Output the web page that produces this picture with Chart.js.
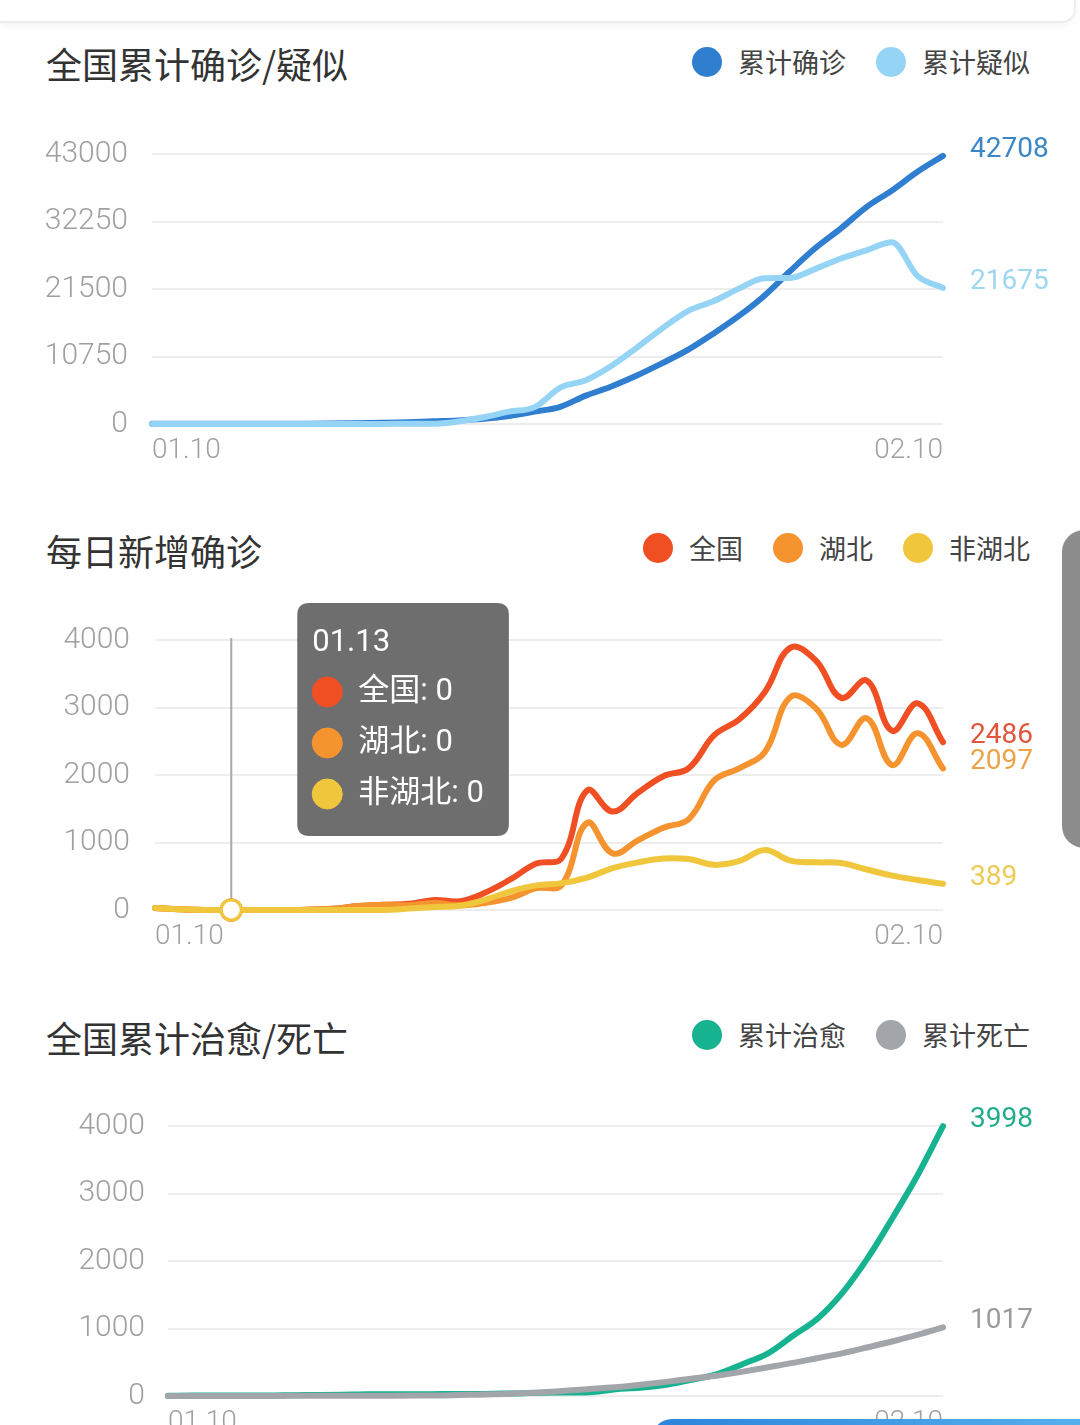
<!DOCTYPE html>
<html lang="zh">
<head>
<meta charset="utf-8">
<script src="https://cdn.jsdelivr.net/npm/chart.js@4.4.1/dist/chart.umd.min.js"></script>
<style>
  html, body { margin: 0; padding: 0; background: #fff; }
  body { width: 1080px; height: 1425px; position: relative; overflow: hidden;
         font-family: "Noto Sans CJK SC", sans-serif; }
  .topcard { position: absolute; left: 0; top: -10px; width: 1074px; height: 31px;
             border-bottom: 2px solid #ececec; border-right: 2px solid #f0f0f0;
             border-bottom-right-radius: 14px; box-shadow: 0 3px 6px rgba(0,0,0,0.04); }
  .title { position: absolute; left: 46px; font-size: 36px; line-height: 40px; color: #333; }
  .legend { position: absolute; right: 50px; display: flex; align-items: center;
            font-size: 27px; line-height: 30px; color: #444; }
  .legend .item { display: flex; align-items: center; margin-left: 30px; }
  .legend .dot { width: 30px; height: 30px; border-radius: 50%; margin-right: 16px; }
  canvas { position: absolute; left: 0; }
  .sidetab { position: absolute; left: 1062px; top: 530px; width: 30px; height: 318px;
             background: #8d8d8d; border-radius: 22px 0 0 22px; }
  .bottombtn { position: absolute; left: 652px; top: 1419px; width: 460px; height: 40px;
               border-radius: 20px; background: linear-gradient(90deg, #2c84dc, #5ab2ee); }
</style>
</head>
<body>
<div class="topcard"></div>

<div class="title" style="top:43px">全国累计确诊/疑似</div>
<div class="legend" id="legend1" style="top:47px"></div>
<canvas id="chartTotal" width="1080" height="374" style="top:110px"></canvas>

<div class="title" style="top:530px">每日新增确诊</div>
<div class="legend" id="legend2" style="top:533px"></div>
<canvas id="chartDaily" width="1080" height="380" style="top:590px"></canvas>

<div class="title" style="top:1017px">全国累计治愈/死亡</div>
<div class="legend" id="legend3" style="top:1020px"></div>
<canvas id="chartCured" width="1080" height="376" style="top:1080px"></canvas>

<div class="sidetab"></div>
<div class="bottombtn"></div>

<script>
// dates 01.10 - 02.10
const dates = ['01.10','01.11','01.12','01.13','01.14','01.15','01.16','01.17','01.18','01.19','01.20',
  '01.21','01.22','01.23','01.24','01.25','01.26','01.27','01.28','01.29','01.30','01.31',
  '02.01','02.02','02.03','02.04','02.05','02.06','02.07','02.08','02.09','02.10'];

// 全国累计确诊 / 疑似
const confirmedTotal = [41, 41, 41, 41, 41, 41, 45, 62, 121, 198, 291, 440, 571, 830, 1287, 1975,
  2744, 4515, 5974, 7711, 9692, 11791, 14380, 17205, 20438, 24324, 28018, 31161, 34546, 37198, 40171, 42708];
const suspectedTotal = [0, 0, 0, 0, 0, 0, 0, 0, 0, 0, 54, 37, 393, 1072, 1965, 2684,
  5794, 6973, 9239, 12167, 15238, 17988, 19544, 21558, 23214, 23260, 24702, 26359, 27657, 28942, 23589, 21675];
const yTicksTotal = [0, 10750, 21500, 32250, 43000];

// 每日新增确诊
const newNational = [30, 10, 0, 0, 0, 0, 4, 17, 59, 77, 93, 149, 131, 259, 457, 688,
  769, 1771, 1459, 1737, 1982, 2102, 2590, 2829, 3235, 3887, 3694, 3143, 3399, 2656, 3062, 2486];
const newHubei = [30, 10, 0, 0, 0, 0, 4, 17, 59, 77, 72, 105, 69, 105, 180, 323,
  371, 1291, 840, 1032, 1220, 1347, 1921, 2103, 2345, 3156, 2987, 2447, 2841, 2147, 2618, 2097];
const newOutside = [30, 10, 0, 0, 0, 0, 0, 0, 0, 0, 21, 44, 62, 154, 277, 365,
  398, 480, 619, 705, 762, 755, 669, 726, 890, 731, 707, 696, 600, 509, 444, 389];
const yTicksDaily = [0, 1000, 2000, 3000, 4000];
const tooltipDate = '01.13';

// 全国累计治愈 / 死亡
const curedTotal = [2, 6, 7, 7, 7, 12, 15, 19, 25, 25, 25, 28, 28, 34, 38, 49,
  51, 60, 103, 124, 171, 243, 328, 475, 632, 892, 1153, 1540, 2050, 2649, 3281, 3998];
const deathTotal = [1, 1, 1, 1, 1, 2, 2, 2, 3, 4, 6, 9, 17, 25, 41, 56,
  80, 106, 132, 170, 213, 259, 304, 361, 425, 490, 563, 636, 722, 811, 908, 1017];
const yTicksCured = [0, 1000, 2000, 3000, 4000];

const yTickFont = { family: 'Roboto', size: 30, weight: 300 };
const xTickFont = { family: 'Roboto', size: 28, weight: 300 };

// last value written beside the end of each line
const endLabels = {
    id: 'endLabels',
    afterDatasetsDraw(chart) {
        const ctx = chart.ctx;
        chart.data.datasets.forEach((ds, i) => {
            const meta = chart.getDatasetMeta(i);
            const pt = meta.data[meta.data.length - 1];
            ctx.save();
            ctx.font = '28px Roboto';
            ctx.fillStyle = ds.endColor;
            ctx.textAlign = 'left';
            ctx.textBaseline = 'middle';
            ctx.fillText(String(ds.data[ds.data.length - 1]), pt.x + 27, pt.y - 6);
            ctx.restore();
        });
    }
};

// vertical guide line under the tooltip point
const hoverLine = {
    id: 'hoverLine',
    beforeDatasetsDraw(chart) {
        const act = chart.tooltip ? chart.tooltip.getActiveElements() : [];
        if (!act.length) return;
        const el = act[0].element;
        const ctx = chart.ctx;
        ctx.save();
        ctx.strokeStyle = '#a9a9a9';
        ctx.lineWidth = 2;
        ctx.beginPath();
        ctx.moveTo(el.x, chart.chartArea.top - 2);
        ctx.lineTo(el.x, el.y);
        ctx.stroke();
        ctx.restore();
    }
};

Chart.Tooltip.positioners.besidePoint = function (items) {
    if (!items.length) return false;
    return { x: items[0].element.x + 78, y: this.chart.chartArea.top - 37 };
};

function lineSet(label, data, color, endColor, order, smooth) {
    return {
        label: label, data: data, borderColor: color, backgroundColor: color, endColor: endColor,
        order: order, borderWidth: 6, pointRadius: 0, borderCapStyle: 'round', borderJoinStyle: 'round',
        tension: 0.4, cubicInterpolationMode: smooth ? 'monotone' : 'default', clip: 14,
        pointHoverRadius: 10, pointHoverBorderWidth: 3, pointHoverBackgroundColor: '#fff', pointHoverBorderColor: color
    };
}

function baseOptions(yTicks, axisWidth, padTop, tickPad) {
    return {
        responsive: false,
        animation: false,
        events: [],
        layout: { padding: { top: padTop, right: 137, bottom: 0, left: 0 } },
        plugins: { legend: { display: false }, tooltip: { enabled: false } },
        scales: {
            x: {
                grid: { display: false, drawTicks: false },
                border: { display: false },
                afterFit: s => { s.height = 60; },
                ticks: {
                    autoSkip: false, maxRotation: 0, align: 'inner', padding: 10,
                    color: '#a0a0a0', font: xTickFont,
                    callback: (v, i, arr) => (i === 0 || i === arr.length - 1) ? dates[v] : ''
                }
            },
            y: {
                min: yTicks[0], max: yTicks[yTicks.length - 1],
                afterBuildTicks: s => { s.ticks = yTicks.map(v => ({ value: v })); },
                afterFit: s => { s.width = axisWidth; },
                grid: { color: '#ededed', lineWidth: 2, drawTicks: false },
                border: { display: false },
                ticks: { padding: tickPad, color: '#a0a0a0', font: yTickFont, callback: v => String(v) }
            }
        }
    };
}

function buildLegend(id, datasets) {
    const box = document.getElementById(id);
    datasets.forEach(ds => {
        const item = document.createElement('div');
        item.className = 'item';
        item.innerHTML = '<span class="dot" style="background:' + ds.borderColor + '"></span>' + ds.label;
        box.appendChild(item);
    });
}

// chart 1
const totalSets = [
    lineSet('累计确诊', confirmedTotal, '#2f7ed0', '#3b86c6', 1, true),
    lineSet('累计疑似', suspectedTotal, '#96d4f5', '#9fd6f2', 0, true)
];
buildLegend('legend1', totalSets);
new Chart(document.getElementById('chartTotal'), {
    type: 'line',
    data: { labels: dates, datasets: totalSets },
    options: baseOptions(yTicksTotal, 152, 44, 24),
    plugins: [endLabels]
});

// chart 2
const dailySets = [
    lineSet('全国', newNational, '#f04e23', '#e2553d', 2, false),
    lineSet('湖北', newHubei, '#f5932f', '#eea24a', 1, false),
    lineSet('非湖北', newOutside, '#f0c63d', '#ecca55', 0, false)
];
buildLegend('legend2', dailySets);
const dailyOpts = baseOptions(yTicksDaily, 155, 50, 25);
dailyOpts.plugins.tooltip = {
    enabled: true, animation: false, position: 'besidePoint',
    xAlign: 'left', yAlign: 'top', caretSize: 0, caretPadding: 0, cornerRadius: 12,
    backgroundColor: 'rgba(104,104,104,0.96)',
    titleColor: '#fff', bodyColor: '#fff',
    titleFont: { family: 'Roboto', size: 31, weight: 'normal', lineHeight: '36px' },
    bodyFont: { family: 'Roboto, "Noto Sans CJK SC"', size: 31, lineHeight: '36px' },
    titleMarginBottom: 13, bodySpacing: 15,
    padding: { top: 22, bottom: 24, left: 15, right: 25 },
    displayColors: true, usePointStyle: true, boxWidth: 30, boxHeight: 30, boxPadding: 14,
    multiKeyBackground: 'rgba(0,0,0,0)',
    itemSort: (a, b) => a.datasetIndex - b.datasetIndex,
    callbacks: {
        labelColor: c => ({ borderColor: c.dataset.borderColor, backgroundColor: c.dataset.borderColor })
    }
};
const dailyChart = new Chart(document.getElementById('chartDaily'), {
    type: 'line',
    data: { labels: dates, datasets: dailySets },
    options: dailyOpts,
    plugins: [hoverLine, endLabels]
});
const tipIndex = dates.indexOf(tooltipDate);
const active = dailySets.map((ds, i) => ({ datasetIndex: i, index: tipIndex }));
dailyChart.setActiveElements(active);
const tipEl = dailyChart.getDatasetMeta(0).data[tipIndex];
dailyChart.tooltip.setActiveElements(active, { x: tipEl.x, y: tipEl.y });
dailyChart.draw();

// chart 3
const curedSets = [
    lineSet('累计治愈', curedTotal, '#17b391', '#21ad8d', 1, true),
    lineSet('累计死亡', deathTotal, '#a2a5a9', '#9b9b9b', 0, true)
];
buildLegend('legend3', curedSets);
new Chart(document.getElementById('chartCured'), {
    type: 'line',
    data: { labels: dates, datasets: curedSets },
    options: baseOptions(yTicksCured, 168, 46, 23),
    plugins: [endLabels]
});
</script>
</body>
</html>
